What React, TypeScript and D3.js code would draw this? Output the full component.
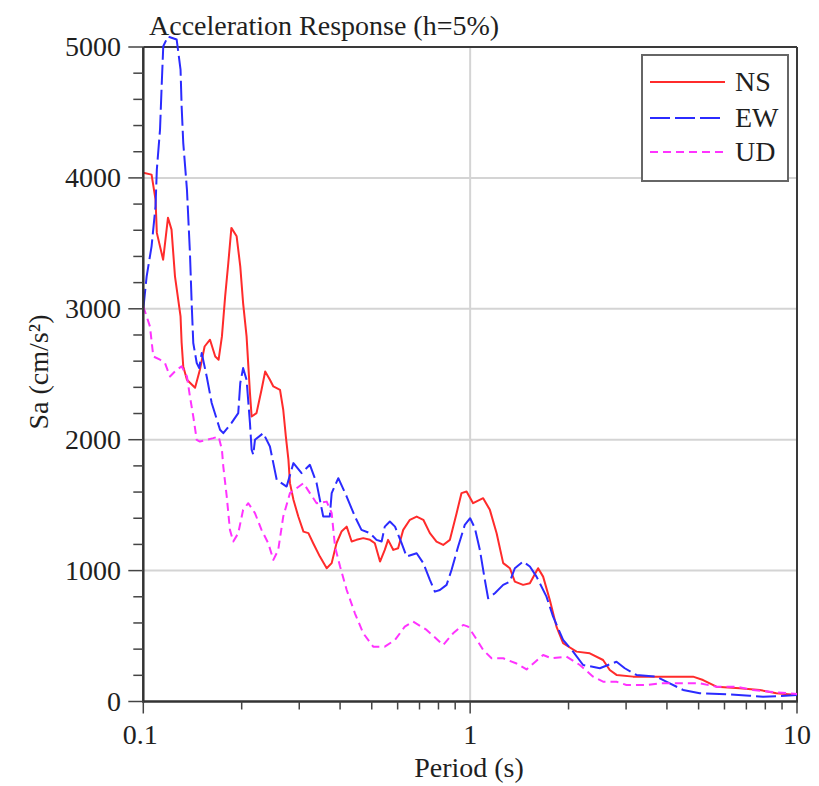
import React from "react";
import * as d3 from "d3";

const nsPeriod = [0.1, 0.106, 0.109, 0.11, 0.115, 0.119, 0.122, 0.125, 0.13, 0.131, 0.1325, 0.136, 0.144, 0.149, 0.154, 0.16, 0.166, 0.17, 0.174, 0.178, 0.182, 0.186, 0.193, 0.198, 0.202, 0.207, 0.212, 0.2145, 0.222, 0.23, 0.236, 0.244, 0.25, 0.262, 0.268, 0.273, 0.278, 0.281, 0.288, 0.298, 0.309, 0.32, 0.331, 0.347, 0.364, 0.377, 0.39, 0.404, 0.419, 0.434, 0.449, 0.471, 0.494, 0.511, 0.53, 0.548, 0.561, 0.582, 0.602, 0.624, 0.654, 0.686, 0.719, 0.753, 0.789, 0.827, 0.867, 0.909, 0.941, 0.975, 1.021, 1.096, 1.149, 1.205, 1.262, 1.323, 1.37, 1.452, 1.523, 1.614, 1.672, 1.753, 1.837, 1.925, 2.116, 2.323, 2.551, 2.674, 2.804, 3.151, 3.803, 4.808, 5.159, 5.669, 6.681, 7.688, 8.65, 10];
const nsSa = [4040, 4025, 3834, 3580, 3375, 3696, 3605, 3248, 2942, 2741, 2560, 2458, 2397, 2534, 2712, 2764, 2636, 2611, 2789, 3095, 3350, 3618, 3554, 3324, 3044, 2789, 2356, 2177, 2203, 2381, 2521, 2458, 2407, 2381, 2229, 2024, 1846, 1668, 1541, 1413, 1298, 1286, 1209, 1107, 1018, 1057, 1209, 1298, 1336, 1222, 1235, 1248, 1235, 1209, 1069, 1158, 1235, 1158, 1171, 1311, 1388, 1413, 1388, 1286, 1222, 1196, 1235, 1439, 1592, 1604, 1515, 1553, 1464, 1286, 1057, 1018, 916, 891, 903, 1018, 954, 776, 572, 445, 381, 368, 317, 241, 203, 190, 190, 190, 164, 113, 101, 88, 63, 50];

const ewPeriod = [0.1, 0.1024, 0.106, 0.109, 0.11, 0.1125, 0.1138, 0.1151, 0.119, 0.1265, 0.13, 0.131, 0.1325, 0.136, 0.1389, 0.1406, 0.1422, 0.1457, 0.1483, 0.1509, 0.1563, 0.1619, 0.1717, 0.1757, 0.186, 0.1952, 0.198, 0.202, 0.207, 0.212, 0.2145, 0.217, 0.2196, 0.2328, 0.244, 0.256, 0.2745, 0.288, 0.305, 0.3234, 0.339, 0.3552, 0.372, 0.377, 0.395, 0.419, 0.444, 0.465, 0.494, 0.517, 0.536, 0.548, 0.568, 0.589, 0.617, 0.639, 0.686, 0.719, 0.753, 0.78, 0.808, 0.847, 0.877, 0.919, 0.963, 1.0, 1.034, 1.071, 1.109, 1.135, 1.19, 1.262, 1.323, 1.37, 1.452, 1.523, 1.596, 1.712, 1.794, 1.925, 2.065, 2.216, 2.493, 2.642, 2.804, 2.972, 3.228, 3.716, 4.081, 4.482, 5.04, 6.083, 7.166, 7.87, 8.853, 10];
const ewSa = [3000, 3248, 3477, 3783, 4063, 4369, 4700, 5006, 5080, 5057, 4828, 4547, 4268, 3911, 3427, 3044, 2739, 2586, 2547, 2662, 2483, 2280, 2076, 2050, 2127, 2203, 2433, 2547, 2458, 2127, 1923, 1885, 1999, 2050, 1948, 1693, 1642, 1821, 1745, 1808, 1668, 1413, 1413, 1592, 1706, 1566, 1413, 1311, 1286, 1235, 1222, 1336, 1375, 1336, 1209, 1107, 1133, 1057, 929, 839, 852, 891, 1005, 1184, 1349, 1400, 1324, 1158, 929, 789, 827, 891, 916, 1018, 1069, 1031, 954, 801, 648, 470, 381, 279, 254, 279, 304, 254, 203, 190, 139, 88, 63, 55, 44, 37, 42, 50];

const udPeriod = [0.1, 0.1048, 0.1073, 0.1125, 0.1165, 0.1207, 0.1265, 0.131, 0.136, 0.1389, 0.1422, 0.1457, 0.149, 0.1563, 0.1637, 0.17, 0.174, 0.1757, 0.18, 0.1841, 0.1885, 0.1952, 0.202, 0.2095, 0.2196, 0.23, 0.2412, 0.25, 0.2587, 0.268, 0.281, 0.309, 0.3234, 0.339, 0.364, 0.377, 0.386, 0.4, 0.419, 0.444, 0.471, 0.505, 0.548, 0.589, 0.631, 0.669, 0.736, 0.827, 0.887, 0.952, 0.986, 1.034, 1.096, 1.163, 1.262, 1.387, 1.488, 1.577, 1.672, 1.774, 1.971, 2.166, 2.378, 2.551, 2.804, 3.008, 3.463, 3.803, 5.04, 5.669, 6.525, 7.335, 8.25, 10];
const udSa = [3018, 2865, 2636, 2611, 2586, 2483, 2534, 2560, 2483, 2330, 2177, 1999, 1986, 1999, 2012, 2024, 1923, 1795, 1566, 1311, 1222, 1286, 1464, 1515, 1439, 1311, 1209, 1082, 1158, 1413, 1592, 1668, 1592, 1515, 1527, 1439, 1184, 1031, 852, 674, 521, 419, 419, 470, 572, 610, 547, 432, 521, 585, 572, 495, 394, 330, 330, 290, 245, 300, 355, 330, 343, 279, 190, 151, 151, 126, 126, 139, 139, 113, 113, 88, 75, 57];

const xTickValues = [0.1, 1, 10];
const xTickLabels = ["0.1", "1", "10"];
const yTickValues = [0, 1000, 2000, 3000, 4000, 5000];
const seriesNames = ["NS", "EW", "UD"];

const W = 819;
const H = 786;
const FONT = "'Liberation Serif', 'Times New Roman', serif";
const TXT = "#1f1f1f";
const FS = 28;

export default function App() {
  const x = d3.scaleLog().domain([0.1, 10]).range([143.3, 797]);
  const y = d3.scaleLinear().domain([0, 5000]).range([701.5, 47]);

  const series = [
    { name: seriesNames[0], t: nsPeriod, v: nsSa, color: "#ff2b2b", dash: "none" },
    { name: seriesNames[1], t: ewPeriod, v: ewSa, color: "#2b2bff", dash: "20,5" },
    { name: seriesNames[2], t: udPeriod, v: udSa, color: "#ff33ff", dash: "8,5" },
  ];

  const line = d3
    .line<[number, number]>()
    .x((d) => x(d[0]))
    .y((d) => y(d[1]));

  const minorX: number[] = [];
  for (const dec of [0.1, 1]) for (let k = 2; k <= 9; k++) minorX.push(dec * k);
  const minorY: number[] = [];
  for (let v = 0; v <= 5000; v += 200) if (v % 1000 !== 0) minorY.push(v);

  const [x0, x1] = x.range();
  const [y0, y1] = y.range();

  return (
    <svg width={W} height={H} style={{ position: "absolute", left: 0, top: 0, background: "#fff" }}>
      <rect x={0} y={0} width={W} height={H} fill="#fff" />
      {/* grid */}
      {yTickValues.slice(1, -1).map((v) => (
        <line key={"gy" + v} x1={x0} x2={x1} y1={y(v)} y2={y(v)} stroke="#d4d4d4" strokeWidth={2} />
      ))}
      <line x1={x(1)} x2={x(1)} y1={y1} y2={y0} stroke="#d4d4d4" strokeWidth={2} />

      {/* frame top & right */}
      <line x1={x0} x2={x1} y1={y1} y2={y1} stroke="#3a3a3a" strokeWidth={2} />
      <line x1={x1} x2={x1} y1={y1} y2={y0} stroke="#3a3a3a" strokeWidth={2} />

      {/* series */}
      {series.map((s) => (
        <path
          key={s.name}
          d={line(s.t.map((t, i) => [t, s.v[i]] as [number, number])) || ""}
          fill="none"
          stroke={s.color}
          strokeWidth={2}
          strokeDasharray={s.dash}
          strokeLinejoin="round"
        />
      ))}

      {/* axes */}
      <line x1={x0} x2={x0} y1={y1} y2={y0 + 1} stroke="#333" strokeWidth={2.5} />
      <line x1={x0 - 1} x2={x1 + 1} y1={y0} y2={y0} stroke="#333" strokeWidth={2.5} />

      {/* y ticks */}
      {yTickValues.map((v) => (
        <g key={"yt" + v}>
          <line x1={x0 - 15} x2={x0} y1={y(v)} y2={y(v)} stroke="#444" strokeWidth={1.5} />
          <text x={121} y={y(v) + 9} textAnchor="end" fontFamily={FONT} fontSize={FS} fill={TXT}>
            {v}
          </text>
        </g>
      ))}
      {minorY.map((v) => (
        <line key={"ym" + v} x1={x0 - 10} x2={x0} y1={y(v)} y2={y(v)} stroke="#444" strokeWidth={1.5} />
      ))}

      {/* x ticks */}
      {xTickValues.map((t, i) => (
        <g key={"xt" + t}>
          <line x1={x(t)} x2={x(t)} y1={y0} y2={y0 + 12} stroke="#444" strokeWidth={1.5} />
          <text x={x(t) - (i === 0 ? 3 : 0)} y={744} textAnchor="middle" fontFamily={FONT} fontSize={FS} fill={TXT}>
            {xTickLabels[i]}
          </text>
        </g>
      ))}
      {minorX.map((t) => (
        <line key={"xm" + t} x1={x(t)} x2={x(t)} y1={y0} y2={y0 + 8} stroke="#444" strokeWidth={1.5} />
      ))}

      {/* titles */}
      <text x={149} y={35} fontFamily={FONT} fontSize={FS} fill={TXT}>
        Acceleration Response (h=5%)
      </text>
      <text x={469} y={777} textAnchor="middle" fontFamily={FONT} fontSize={FS} fill={TXT}>
        Period (s)
      </text>
      <text
        transform="translate(48,372) rotate(-90)"
        textAnchor="middle"
        fontFamily={FONT}
        fontSize={FS}
        fill={TXT}
      >
        Sa (cm/s²)
      </text>

      {/* legend */}
      <rect x={642} y={55} width={146} height={126} fill="#fff" stroke="#666" strokeWidth={2} />
      {series.map((s, i) => {
        const ly = [82, 118, 152][i];
        return (
          <g key={"lg" + s.name}>
            <line x1={650} x2={725} y1={ly} y2={ly} stroke={s.color} strokeWidth={2} strokeDasharray={s.dash} />
            <text x={735} y={ly + 9} fontFamily={FONT} fontSize={FS} fill={TXT}>
              {s.name}
            </text>
          </g>
        );
      })}
    </svg>
  );
}
